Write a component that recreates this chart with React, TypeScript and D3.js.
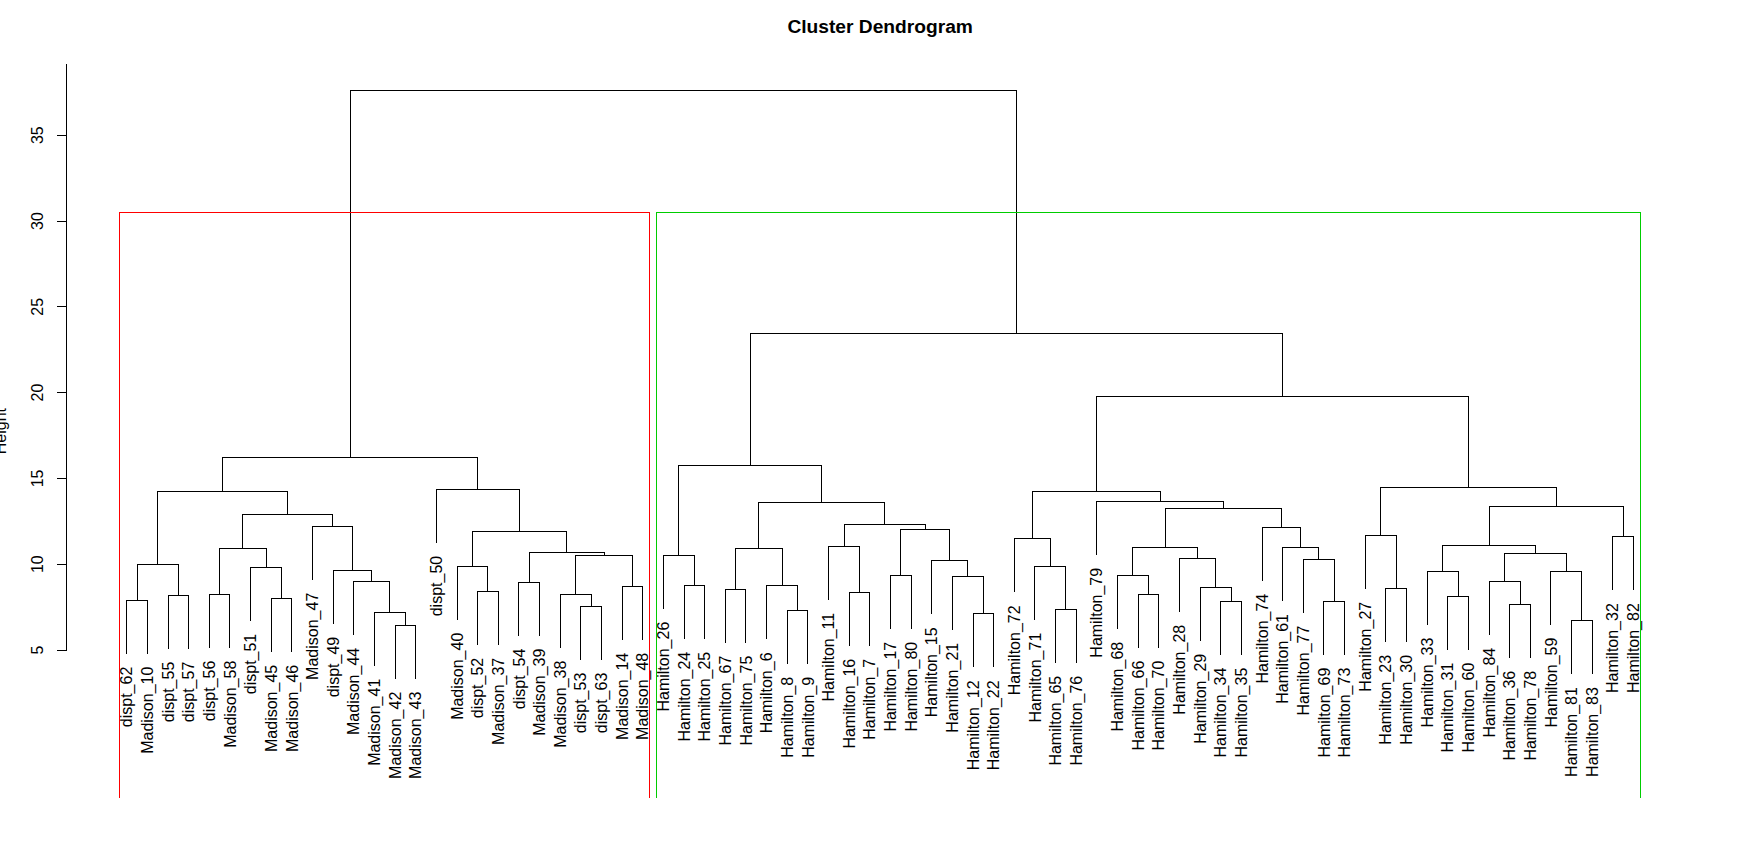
import React, { useEffect, useRef } from "react";
import * as d3 from "d3";

// leaves in plotted order (left to right)
const labels = [
  "dispt_62", "Madison_10", "dispt_55", "dispt_57", "dispt_56", "Madison_58", "dispt_51",
  "Madison_45", "Madison_46", "Madison_47", "dispt_49", "Madison_44", "Madison_41", "Madison_42",
  "Madison_43", "dispt_50", "Madison_40", "dispt_52", "Madison_37", "dispt_54", "Madison_39",
  "Madison_38", "dispt_53", "dispt_63", "Madison_14", "Madison_48",
  "Hamilton_26", "Hamilton_24", "Hamilton_25", "Hamilton_67", "Hamilton_75", "Hamilton_6",
  "Hamilton_8", "Hamilton_9", "Hamilton_11", "Hamilton_16", "Hamilton_7", "Hamilton_17",
  "Hamilton_80", "Hamilton_15", "Hamilton_21", "Hamilton_12", "Hamilton_22", "Hamilton_72",
  "Hamilton_71", "Hamilton_65", "Hamilton_76", "Hamilton_79", "Hamilton_68", "Hamilton_66",
  "Hamilton_70", "Hamilton_28", "Hamilton_29", "Hamilton_34", "Hamilton_35", "Hamilton_74",
  "Hamilton_61", "Hamilton_77", "Hamilton_69", "Hamilton_73", "Hamilton_27", "Hamilton_23",
  "Hamilton_30", "Hamilton_33", "Hamilton_31", "Hamilton_60", "Hamilton_84", "Hamilton_36",
  "Hamilton_78", "Hamilton_59", "Hamilton_81", "Hamilton_83", "Hamilton_32", "Hamilton_82",
];

// hclust-style merges: negative = leaf number (1-based), positive = earlier merge row
const merges: [number, number, number][] = [
  [-1, -2, 7.9], [-3, -4, 8.19], [1, 2, 9.99], [-5, -6, 8.25], [-8, -9, 8.01],
  [-7, 5, 9.82], [4, 6, 10.93], [-14, -15, 6.44], [-13, 8, 7.2], [-12, 9, 9.0],
  [-11, 10, 9.64], [-10, 11, 12.21], [7, 12, 12.91], [3, 13, 14.25], [-18, -19, 8.42],
  [-17, 15, 9.88], [-20, -21, 8.95], [-23, -24, 7.55], [-22, 18, 8.25], [-25, -26, 8.71],
  [19, 20, 10.52], [17, 21, 10.69], [16, 22, 11.88], [-16, 23, 14.36], [14, 24, 16.23],
  [-28, -29, 8.77], [-27, 26, 10.52], [-30, -31, 8.54], [-33, -34, 7.31], [-32, 29, 8.73],
  [28, 30, 10.89], [-36, -37, 8.36], [-35, 32, 11.04], [-38, -39, 9.35], [-42, -43, 7.1],
  [-41, 35, 9.29], [-40, 36, 10.19], [34, 37, 12.03], [33, 38, 12.34], [31, 39, 13.62],
  [27, 40, 15.78], [-46, -47, 7.37], [-45, 42, 9.88], [-44, 43, 11.47], [-50, -51, 8.25],
  [-49, 45, 9.35], [-54, -55, 7.84], [-53, 47, 8.65], [-52, 48, 10.34], [46, 49, 10.98],
  [-59, -60, 7.84], [-58, 51, 10.29], [-57, 52, 10.97], [-56, 53, 12.15], [50, 54, 13.26],
  [-48, 55, 13.66], [44, 56, 14.25], [-62, -63, 8.59], [-61, 58, 11.68], [-65, -66, 8.13],
  [-64, 60, 9.59], [-68, -69, 7.66], [-67, 62, 9.0], [-71, -72, 6.71], [-70, 64, 9.59],
  [63, 65, 10.63], [61, 66, 11.1], [-73, -74, 11.6], [67, 68, 13.37], [59, 69, 14.48],
  [57, 70, 19.78], [41, 71, 23.46], [25, 72, 37.58],
];

const yTicks = [5, 10, 15, 20, 25, 30, 35];
const clusterColors = ["#FF0000", "#00CD00"];

type TreeNode = { name: string; height: number; children?: TreeNode[] };

function buildTree(): TreeNode {
  const rows: TreeNode[] = [];
  const get = (i: number): TreeNode =>
    i < 0 ? { name: labels[-i - 1], height: 0 } : rows[i - 1];
  merges.forEach(([a, b, h], i) => {
    rows.push({ name: "m" + (i + 1), height: h, children: [get(a), get(b)] });
  });
  return rows[rows.length - 1];
}

const W = 1743;
const H = 846;
const font = "'Liberation Sans', Arial, sans-serif";

const App: React.FC = () => {
  const svgRef = useRef<SVGSVGElement | null>(null);

  useEffect(() => {
    if (!svgRef.current) return;
    const svg = d3.select(svgRef.current);
    svg.selectAll("*").remove();

    const n = labels.length;
    const plotLeft = 66.5, plotRight = 1693.8, plotTop = 64.3, plotBottom = 798;
    const pad = 0.04 * (n - 1);
    const x = d3.scaleLinear().domain([1 - pad, n + pad]).range([plotLeft, plotRight]);
    const y = d3.scaleLinear().domain([5, 35]).range([650, 135.2]);

    const heights = merges.map(m => m[2]);
    const hang = 0.1 * (d3.max(heights)! - d3.min(heights)!);

    const root = d3.hierarchy<TreeNode>(buildTree());
    d3.cluster<TreeNode>().separation(() => 1).size([n, 1])(root);
    const pos = (d: d3.HierarchyNode<TreeNode>) => x((d as any).x + 0.5);
    const hOf = (d: d3.HierarchyNode<TreeNode>) =>
      d.children ? d.data.height : d.parent!.data.height - hang;

    // title
    svg.append("text")
      .attr("x", (plotLeft + plotRight) / 2)
      .attr("y", 33)
      .attr("text-anchor", "middle")
      .attr("font-family", font)
      .attr("font-weight", "bold")
      .attr("font-size", 19.2)
      .text("Cluster Dendrogram");

    // y axis
    const axis = svg.append("g").attr("stroke", "#000").attr("shape-rendering", "crispEdges");
    axis.append("line")
      .attr("x1", plotLeft).attr("x2", plotLeft)
      .attr("y1", y(5)).attr("y2", plotTop);
    axis.selectAll("line.tick")
      .data(yTicks)
      .join("line")
      .attr("class", "tick")
      .attr("x1", plotLeft - 9.5).attr("x2", plotLeft)
      .attr("y1", d => y(d)).attr("y2", d => y(d));
    svg.append("g")
      .attr("font-family", font)
      .attr("font-size", 16)
      .attr("text-anchor", "middle")
      .selectAll("text")
      .data(yTicks)
      .join("text")
      .attr("transform", d => `translate(42.5,${y(d)}) rotate(-90)`)
      .text(d => d);
    svg.append("text")
      .attr("transform", `translate(5.5,${(plotTop + plotBottom) / 2}) rotate(-90)`)
      .attr("text-anchor", "middle")
      .attr("font-family", font)
      .attr("font-size", 16)
      .text("Height");

    // branches
    svg.append("g")
      .attr("fill", "none")
      .attr("stroke", "#000")
      .attr("stroke-width", 1)
      .attr("shape-rendering", "crispEdges")
      .selectAll("path")
      .data(root.descendants().filter(d => d.children))
      .join("path")
      .attr("d", d => {
        const [a, b] = d.children!;
        return `M${pos(a)},${y(hOf(a))}V${y(d.data.height)}H${pos(b)}V${y(hOf(b))}`;
      });

    // leaf labels
    svg.append("g")
      .attr("font-family", font)
      .attr("font-size", 16)
      .attr("text-anchor", "end")
      .selectAll("text")
      .data(root.leaves())
      .join("text")
      .attr("transform", d => `translate(${pos(d)},${y(hOf(d)) + 13}) rotate(-90)`)
      .attr("dy", "0.35em")
      .text(d => d.data.name);

    // cluster rectangles (k = 2)
    const topH = (root.data.height + d3.max(root.children!, c => c.data.height)!) / 2;
    svg.append("g")
      .attr("fill", "none")
      .attr("shape-rendering", "crispEdges")
      .selectAll("path")
      .data(root.children!)
      .join("path")
      .attr("stroke", (_, i) => clusterColors[i])
      .attr("d", d => {
        const lv = d.leaves();
        const x0 = x((lv[0] as any).x + 0.5 - 0.34);
        const x1 = x((lv[lv.length - 1] as any).x + 0.5 + 0.33);
        return `M${x0},${plotBottom}V${y(topH)}H${x1}V${plotBottom}`;
      });
  }, []);

  return (
    <svg
      ref={svgRef}
      width={W}
      height={H}
      style={{ position: "absolute", left: 0, top: 0, background: "#fff" }}
    />
  );
};

export default App;
